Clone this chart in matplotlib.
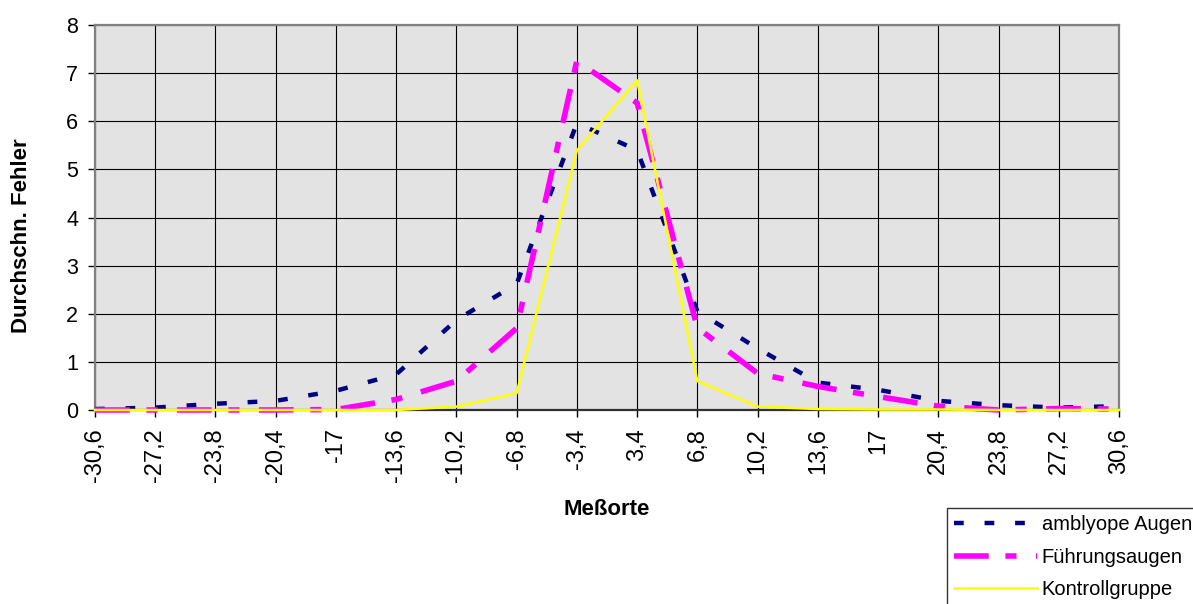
import matplotlib
matplotlib.use("Agg")
import matplotlib.pyplot as plt

plt.rcParams['font.family'] = ['Liberation Sans', 'DejaVu Sans']
plt.rcParams['lines.scale_dashes'] = False

# Meßorte (category labels)
positions = ['-30,6', '-27,2', '-23,8', '-20,4', '-17', '-13,6', '-10,2', '-6,8', '-3,4',
             '3,4', '6,8', '10,2', '13,6', '17', '20,4', '23,8', '27,2', '30,6']

amblyop = [0.02, 0.05, 0.13, 0.19, 0.40, 0.74, 1.87, 2.62, 5.96,
           5.40, 2.05, 1.28, 0.57, 0.42, 0.19, 0.10, 0.05, 0.08]
fuehrung = [0.0, 0.0, 0.0, 0.0, 0.01, 0.22, 0.60, 1.70, 7.26,
            6.38, 1.71, 0.76, 0.49, 0.28, 0.08, 0.0, 0.03, 0.02]
kontroll = [0.0, 0.0, 0.0, 0.0, 0.0, 0.0, 0.07, 0.35, 5.39,
            6.85, 0.60, 0.07, 0.02, 0.01, 0.01, 0.0, 0.0, 0.0]

W, H = 1193, 604
fig = plt.figure(figsize=(W / 100, H / 100), dpi=100)
ax = fig.add_axes([95 / W, 1 - 410 / H, (1119 - 95) / W, (410 - 25) / H])
ax.set_facecolor('#e3e3e3')

x = list(range(len(positions)))
ax.plot(x, amblyop, color='#000080', lw=3.2, linestyle=(0, (7, 15)),
        label='amblyope Augen', clip_on=False, zorder=3)
ax.plot(x, fuehrung, color='#ff00ff', lw=4.0, linestyle=(0, (25, 12, 8, 14)),
        label='Führungsaugen', clip_on=False, zorder=4)
ax.plot(x, kontroll, color='#ffff00', lw=1.8, linestyle='-',
        label='Kontrollgruppe', clip_on=False, zorder=5)

ax.set_xlim(0, len(positions) - 1)
ax.set_ylim(0, 8)
ax.set_xticks(x)
ax.set_xticklabels(positions, rotation=90, fontsize=17)
ax.set_yticks(range(0, 9))
ax.tick_params(axis='y', labelsize=15.5, length=5, width=1, pad=7, direction='out')
ax.tick_params(axis='x', length=5, width=1, pad=8, direction='out')

ax.grid(True, color='black', lw=0.8)
ax.set_axisbelow(True)
for side in ['top', 'right', 'left']:
    ax.spines[side].set_color('#808080')
    ax.spines[side].set_linewidth(1.6)
ax.spines['bottom'].set_color('#303030')
ax.spines['bottom'].set_linewidth(1.6)

ax.set_ylabel('Durchschn. Fehler', fontsize=16, fontweight='bold')
ax.yaxis.set_label_coords(-0.062, 0.452)
ax.set_xlabel('Meßorte', fontsize=16, fontweight='bold')
ax.xaxis.set_label_coords(0.5, -0.232)

leg = fig.legend(loc='upper left', bbox_to_anchor=(947 / W, 1 - 508 / H),
                 fontsize=14.5, frameon=True, fancybox=False, edgecolor='black',
                 handlelength=4.1, handletextpad=0.25, labelspacing=0.68,
                 borderpad=0.35, borderaxespad=0)
leg.get_frame().set_linewidth(1.0)

fig.savefig('out.png', dpi=100)
